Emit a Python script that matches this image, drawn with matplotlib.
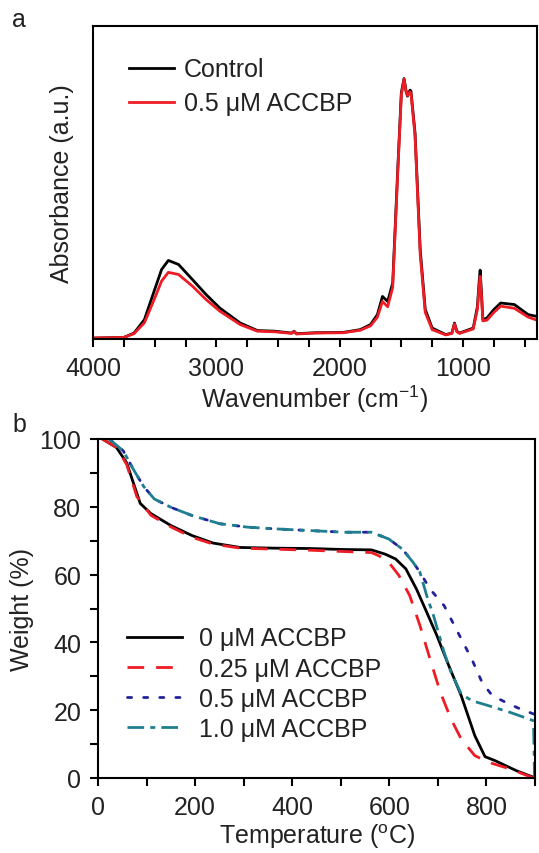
import numpy as np
import matplotlib
matplotlib.use("Agg")
import matplotlib.pyplot as plt
from matplotlib.ticker import MultipleLocator

plt.rcParams["font.family"] = ["Liberation Sans", "DejaVu Sans"]
plt.rcParams["mathtext.default"] = "regular"
plt.rcParams["font.size"] = 18

TXT = "#222222"

# --- panel a: FTIR spectra (absorbance in arbitrary units) ---
wn = [4000, 3750, 3667, 3583, 3500, 3444, 3389, 3306, 3194, 3083, 2972, 2806,
      2667, 2528, 2389, 2370, 2350, 2200, 1972, 1833, 1750, 1694, 1653, 1611,
      1570, 1528, 1500, 1478, 1462, 1450, 1430, 1422, 1389, 1347, 1306, 1250,
      1139, 1090, 1069, 1050, 1028, 917, 883, 870, 861, 850, 839, 806, 750,
      694, 583, 472, 400]
abs_control = [0.003, 0.005, 0.019, 0.062, 0.158, 0.222, 0.251, 0.238, 0.190,
               0.142, 0.099, 0.051, 0.027, 0.025, 0.019, 0.025, 0.017, 0.020,
               0.021, 0.030, 0.046, 0.078, 0.136, 0.120, 0.179, 0.552, 0.787,
               0.832, 0.793, 0.776, 0.795, 0.792, 0.659, 0.286, 0.094, 0.035,
               0.014, 0.019, 0.051, 0.025, 0.019, 0.035, 0.104, 0.179, 0.220,
               0.147, 0.062, 0.067, 0.094, 0.115, 0.110, 0.078, 0.072]
abs_accbp = [0.003, 0.005, 0.017, 0.052, 0.130, 0.185, 0.213, 0.206, 0.169,
             0.126, 0.089, 0.046, 0.025, 0.023, 0.018, 0.024, 0.016, 0.019,
             0.020, 0.028, 0.042, 0.070, 0.120, 0.103, 0.165, 0.540, 0.780,
             0.830, 0.790, 0.778, 0.790, 0.785, 0.650, 0.270, 0.085, 0.030,
             0.013, 0.018, 0.048, 0.023, 0.018, 0.032, 0.095, 0.165, 0.200,
             0.135, 0.058, 0.060, 0.085, 0.105, 0.098, 0.070, 0.060]

# --- panel b: TGA curves ---
t_0 = [9, 38, 59, 73, 87, 109, 151, 194, 237, 293, 364, 435, 507, 563, 592,
       613, 634, 656, 677, 698, 720, 748, 776, 797, 818, 861, 897]
w_0 = [100, 97.5, 93, 87, 81, 78, 74.4, 71.5, 69.3, 68, 67.8, 67.7, 67.4,
       67.3, 66, 64.6, 61.7, 55.7, 48.9, 42, 34, 24.3, 12.5, 6.3, 5.1, 2.2, 0.2]

t_025 = [9, 38, 59, 80, 109, 151, 194, 237, 293, 364, 435, 507, 563, 578, 599,
         620, 642, 663, 684, 705, 727, 748, 776, 805, 848, 897]
w_025 = [100, 97.5, 92.5, 83, 77.5, 74, 71, 69, 67.8, 67.5, 67.2, 66.8, 66.5,
         65.6, 63.6, 59.7, 53.8, 45, 35, 25.3, 17.4, 11.5, 6.6, 4.6, 2.7, 0]

t_05 = [23, 52, 73, 94, 116, 151, 194, 251, 308, 364, 435, 507, 563, 599, 627,
        649, 663, 684, 713, 741, 770, 791, 812, 840, 869, 897]
w_05 = [100, 96.5, 91, 86, 82.3, 79.8, 77.4, 75, 74, 73.5, 73, 72.5, 72.5,
        70.5, 67.5, 63.6, 60.7, 55.7, 50.8, 43, 35, 28.2, 24.3, 22.3, 20.4, 18.9]

t_10 = [23, 52, 73, 94, 116, 151, 194, 251, 308, 364, 435, 507, 563, 599, 627,
        649, 663, 677, 691, 713, 727, 748, 770, 805, 848, 897, 899]
w_10 = [100, 96.5, 91, 86, 82.3, 79.8, 77.4, 75, 74, 73.5, 73, 72.5, 72.5,
        70.5, 67.5, 63.6, 60.7, 53.8, 47.9, 37, 31.2, 24.8, 22.8, 21.3, 19.4,
        16.9, 0]

fig = plt.figure(figsize=(5.39, 8.54), dpi=100)
W, H = 539, 854


def place(l, r, t, b):
    return fig.add_axes([l / W, 1 - b / H, (r - l) / W, (b - t) / H])


# panel a
ax1 = place(93, 537, 27, 340)
ax1.plot(wn, abs_control, color="black", lw=2, label="Control")
ax1.plot(wn, abs_accbp, color="#ee1c25", lw=2, label="0.5 \u03bcM ACCBP")
ax1.set_xlim(4000, 400)
ax1.set_ylim(0, 1)
ax1.xaxis.set_major_locator(MultipleLocator(1000))
ax1.xaxis.set_minor_locator(MultipleLocator(250))
ax1.set_yticks([])
ax1.tick_params(axis="x", which="both", direction="out", width=1.5,
                colors="black", labelcolor=TXT, labelsize=18, pad=6)
ax1.tick_params(axis="x", which="major", length=6)
ax1.tick_params(axis="x", which="minor", length=6)
ax1.set_xlabel("Wavenumber (cm$^{-1}$)", color=TXT, fontsize=18, labelpad=2)
ax1.set_ylabel("Absorbance (a.u.)", color=TXT, fontsize=18, labelpad=14)
ax1.legend(loc="upper left", bbox_to_anchor=(0.081, 0.90), frameon=False,
           borderpad=0, borderaxespad=0, handlelength=1.8, handletextpad=0.4,
           labelspacing=0.4, fontsize=18, labelcolor=TXT)
for s in ax1.spines.values():
    s.set_linewidth(1.5)

# panel b
ax2 = place(98, 535, 440, 779)
ax2.plot(t_0, w_0, color="black", lw=2, label="0 \u03bcM ACCBP")
ax2.plot(t_025, w_025, color="#ee1c25", lw=2, dashes=(6, 4.3),
         label="0.25 \u03bcM ACCBP")
ax2.plot(t_05, w_05, color="#22229a", lw=2, dashes=(1.5, 4.3),
         dash_capstyle="round", label="0.5 \u03bcM ACCBP")
ax2.plot(t_10, w_10, color="#1f7f8f", lw=2, dashes=(6, 2.2, 1.8, 2.2),
         label="1.0 \u03bcM ACCBP")
ax2.set_xlim(0, 900)
ax2.set_ylim(0, 100)
ax2.xaxis.set_major_locator(MultipleLocator(200))
ax2.xaxis.set_minor_locator(MultipleLocator(100))
ax2.yaxis.set_major_locator(MultipleLocator(20))
ax2.yaxis.set_minor_locator(MultipleLocator(10))
ax2.tick_params(which="both", direction="out", width=1.5, length=6,
                colors="black", labelcolor=TXT, labelsize=18, pad=6)
ax2.set_xlabel("Temperature ($^{o}$C)", color=TXT, fontsize=18, labelpad=2)
ax2.set_ylabel("Weight (%)", color=TXT, fontsize=18, labelpad=4)
ax2.legend(loc="upper left", bbox_to_anchor=(0.066, 0.447), frameon=False,
           borderpad=0, borderaxespad=0, handlelength=2.2, handletextpad=0.7,
           labelspacing=0.25, fontsize=18, labelcolor=TXT)
for s in ax2.spines.values():
    s.set_linewidth(1.5)

fig.text(12 / W, 1 - 20 / H, "a", fontsize=18, color=TXT, va="center")
fig.text(12 / W, 1 - 425 / H, "b", fontsize=18, color=TXT, va="center")

fig.savefig("out.png", dpi=100)
